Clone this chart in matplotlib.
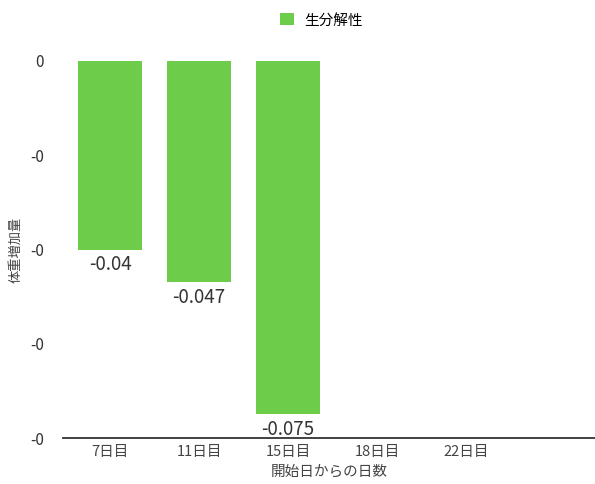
"""Body weight change of the biodegradable group by day."""

import matplotlib

matplotlib.use("Agg")
import matplotlib.pyplot as plt
from matplotlib.ticker import FixedLocator, FuncFormatter

plt.rcParams["font.family"] = ["Noto Sans CJK JP", "DejaVu Sans"]

days = ["7日目", "11日目", "15日目", "18日目", "22日目"]
weight_gain = [-0.04, -0.047, -0.075, None, None]
series_name = "生分解性"
y_ticks = [0, -0.02, -0.04, -0.06, -0.08]

BAR_COLOR = "#6dcd4b"


def main() -> None:
    fig = plt.figure(figsize=(5.95, 4.84), dpi=100)
    ax = fig.add_axes([0.106, 0.095, 0.894, 0.779])

    xs = [i for i, v in enumerate(weight_gain) if v is not None]
    vals = [v for v in weight_gain if v is not None]
    bars = ax.bar(xs, vals, width=0.72, color=BAR_COLOR, label=series_name, zorder=2)

    for bar, v in zip(bars, vals):
        ax.annotate(f"{v:g}", (bar.get_x() + bar.get_width() / 2, v),
                    xytext=(0, -3), textcoords="offset points",
                    ha="center", va="top", fontsize=13.5, color="#333333")

    ax.set_xlim(-0.53, 5.45)
    ax.set_ylim(-0.08, 0)
    ax.set_xticks(range(len(days)))
    ax.set_xticklabels(days, fontsize=10.5, color="#444444")
    ax.yaxis.set_major_locator(FixedLocator(y_ticks))
    ax.yaxis.set_major_formatter(FuncFormatter(lambda v, _: f"{v:.0f}"))
    ax.tick_params(axis="y", length=0, pad=14, labelsize=11, labelcolor="#333333")
    ax.tick_params(axis="x", length=0, pad=5)

    for side in ("top", "right", "left"):
        ax.spines[side].set_visible(False)
    ax.spines["bottom"].set_linewidth(1.3)
    ax.spines["bottom"].set_color("#333333")
    ax.spines["bottom"].set_zorder(3)

    ax.set_xlabel("開始日からの日数", fontsize=10.5, color="#444444", labelpad=4)
    ax.set_ylabel("体重増加量", fontsize=9.5, color="#444444", labelpad=5)

    fig.legend(handles=[bars], labels=[series_name], loc="center",
               bbox_to_anchor=(0.54, 0.958), frameon=False, fontsize=10.5,
               handlelength=0.9, handleheight=0.9, handletextpad=0.7)

    fig.savefig("out.png", dpi=100)


if __name__ == "__main__":
    main()
